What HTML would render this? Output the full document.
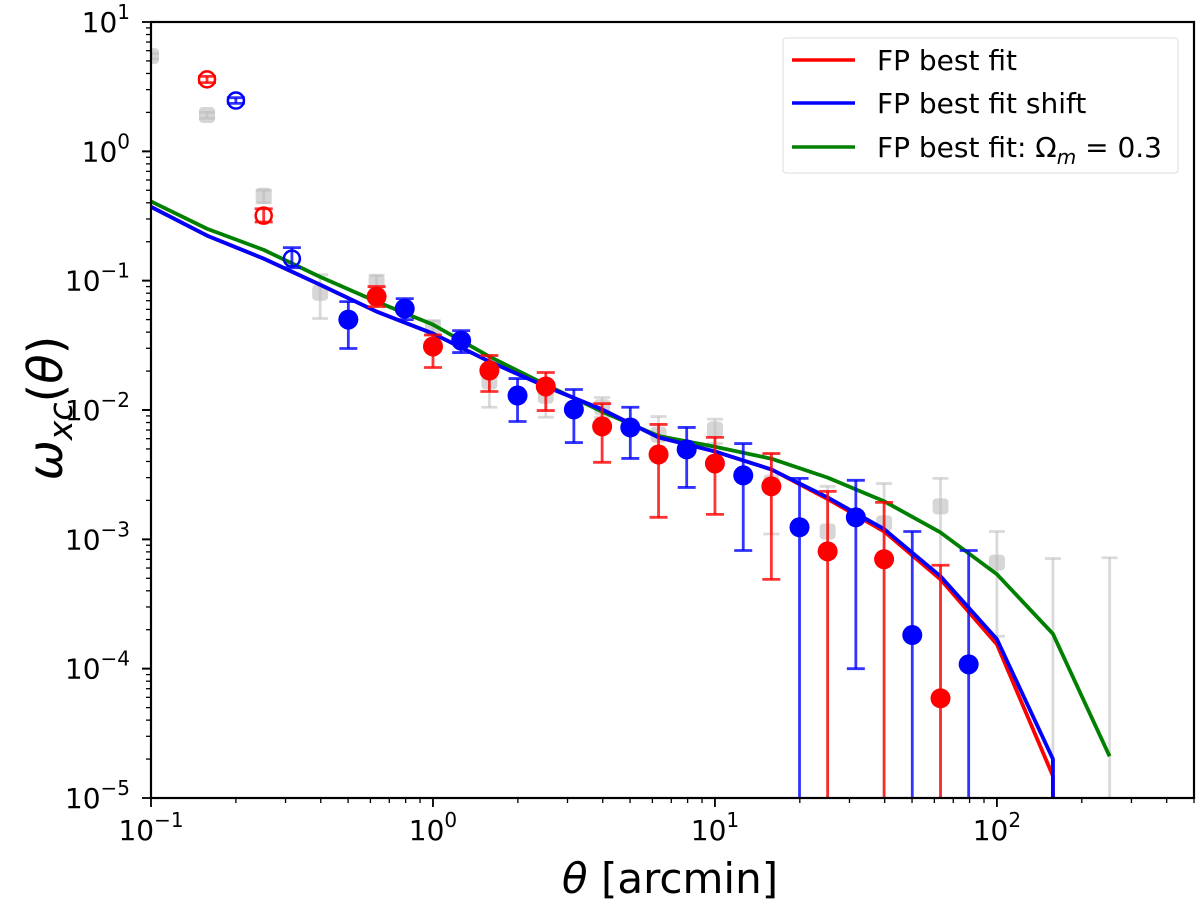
<!DOCTYPE html>
<html><head><meta charset="utf-8"><style>
html,body{margin:0;padding:0;background:#fff;}
svg{display:block;font-family:"DejaVu Sans","Liberation Sans",sans-serif;}
</style></head><body>
<svg id="chart" width="1200" height="903" viewBox="0 0 1200 903" xmlns="http://www.w3.org/2000/svg">
<g id="grey"></g>
<g id="lines"></g>
<g id="pts"></g>
<g id="axes"></g>
<g>
<rect x="783" y="38" width="395" height="135" rx="3" fill="#fff" fill-opacity="0.8" stroke="#ddd" stroke-width="1"/>
<line x1="792" y1="60" x2="855" y2="60" stroke="#ff0000" stroke-width="3.5"/>
<text x="877" y="70" font-size="28">FP best fit</text>
<line x1="792" y1="103" x2="855" y2="103" stroke="#0000ff" stroke-width="3.5"/>
<text x="877" y="113" font-size="28">FP best fit shift</text>
<line x1="792" y1="147" x2="855" y2="147" stroke="#008000" stroke-width="3.5"/>
<text x="877" y="157" font-size="28">FP best fit: Ω<tspan font-style="italic" font-size="20" dy="7">m</tspan><tspan dy="-7"> = 0.3</tspan></text>
</g>
<text x="670" y="893" font-size="42" text-anchor="middle"><tspan font-style="italic">θ</tspan> [arcmin]</text>
<text transform="translate(62,408) rotate(-90)" font-size="48" text-anchor="middle"><tspan font-style="italic">ω</tspan><tspan font-style="italic" font-size="33" dy="10">xc</tspan><tspan dy="-10">(</tspan><tspan font-style="italic">θ</tspan>)</text>
</svg>
<script>
const redX=[0.158,0.251,0.631,1.0,1.585,2.512,3.98,6.31,10,15.85,25.1,39.8,63.1];
const redY=[3.6,0.318,0.0752,0.031,0.0202,0.0152,0.00747,0.00453,0.00386,0.00257,0.000807,0.000702,0.000059];
const redLo=[3.4,0.284,0.063,0.0213,0.0139,0.0099,0.00394,0.00148,0.00156,0.00049,0,0,0];
const redHi=[3.8,0.36,0.09,0.038,0.0264,0.0195,0.0112,0.00773,0.00614,0.00461,0.00235,0.00193,0.00063];
const redOpen=[1,1,0,0,0,0,0,0,0,0,0,0,0];
const blueX=[0.2,0.316,0.501,0.794,1.259,1.995,3.16,5.01,7.94,12.6,19.95,31.6,50.1,79.4];
const blueY=[2.47,0.148,0.05,0.0608,0.0344,0.01294,0.0101,0.00733,0.00496,0.00312,0.00124,0.00148,0.000182,0.000108];
const blueLo=[2.35,0.126,0.0299,0.05,0.0278,0.00815,0.0056,0.00422,0.00252,0.00082,0,0.0001,0,0];
const blueHi=[2.6,0.18,0.0689,0.0726,0.0411,0.0175,0.0144,0.0105,0.00733,0.0055,0.00296,0.00286,0.00115,0.00082];
const blueOpen=[1,1,0,0,0,0,0,0,0,0,0,0,0,0];
const greyX=[0.1,0.158,0.251,0.398,0.631,1.0,1.585,2.512,3.98,6.31,10,15.85,25.1,39.8,63.1,100,158,251];
const greyY=[5.45,1.91,0.453,0.0807,0.0966,0.0434,0.0166,0.0129,0.0105,0.00645,0.00706,0.00275,0.00115,0.00133,0.0018,0.00066,null,null];
const greyLo=[5.2,1.8,0.4,0.051,0.08,0.038,0.0105,0.0088,0.0088,0.004,0.0055,0.0011,0,0,0,0.000178,0,0];
const greyHi=[5.7,2.0,0.5,0.111,0.11,0.049,0.0264,0.0165,0.0125,0.0089,0.0085,0.0046,0.00257,0.0027,0.00296,0.00115,0.00071,0.00072];
const lineX=[0.1,0.158,0.251,0.398,0.631,1.0,1.585,2.512,3.98,6.31,10,15.85,25.1,39.8,63.1,100,158];
const fitRed=[0.372,0.223,0.148,0.093,0.0577,0.039,0.0237,0.0152,0.0101,0.00614,0.00478,0.00347,0.00205,0.00115,0.00049,0.000154,0.0000148];
const fitBlue=[0.372,0.223,0.148,0.093,0.0577,0.039,0.0237,0.0152,0.0101,0.00614,0.00478,0.00347,0.00211,0.0012,0.000518,0.000169,0.00002];
const greenX=[0.1,0.158,0.251,0.398,0.631,1.0,1.585,2.512,3.98,6.31,10,15.85,25.1,39.8,63.1,100,158,251];
const fitGreen=[0.41,0.252,0.173,0.107,0.0689,0.0457,0.0259,0.0157,0.0097,0.0063,0.0052,0.0042,0.003,0.00197,0.00113,0.000537,0.000186,0.000021];
const xTickExp=[-1,0,1,2];
const yTickExp=[1,0,-1,-2,-3,-4,-5];

const L=151,R=1194,T=22,B=798;
const X0=-1,X1=Math.log10(500),Y0=-5,Y1=1;
function sx(v){return L+(Math.log10(v)-X0)/(X1-X0)*(R-L);}
function sy(v){if(!(v>0))return B+20;return B-(Math.log10(v)-Y0)/(Y1-Y0)*(B-T);}
const NS="http://www.w3.org/2000/svg";
function mk(tag,attrs,parent){const e=document.createElementNS(NS,tag);for(const k in attrs)e.setAttribute(k,attrs[k]);parent.appendChild(e);return e;}
const svg=document.getElementById('chart');
const clipDefs=mk('defs',{},svg);
const cp=mk('clipPath',{id:'plotclip'},clipDefs);
mk('rect',{x:L,y:T,width:R-L,height:B-T},cp);
const gG=document.getElementById('grey'),gL=document.getElementById('lines'),gP=document.getElementById('pts'),gA=document.getElementById('axes');
[gG,gL,gP].forEach(g=>g.setAttribute('clip-path','url(#plotclip)'));

function errbar(g,x,lo,hi,col,op,cap){
  const px=sx(x),y1=sy(hi),y2=lo>0?sy(lo):B+20;
  let e=mk('line',{x1:px,x2:px,y1:y1,y2:y2,stroke:col,'stroke-width':2.8,'stroke-opacity':op},g);
  
  
  mk('line',{x1:px-cap,x2:px+cap,y1:y1,y2:y1,stroke:col,'stroke-width':2.8,'stroke-opacity':op},g);
  if(lo>0)mk('line',{x1:px-cap,x2:px+cap,y1:y2,y2:y2,stroke:col,'stroke-width':2.8,'stroke-opacity':op},g);
}
for(let i=0;i<greyX.length;i++){
  errbar(gG,greyX[i],greyLo[i],greyHi[i],'#bbbbbb',0.55,8);
  if(greyY[i]!=null){
    const r=mk('rect',{x:sx(greyX[i])-8,y:sy(greyY[i])-8,width:16,height:16,rx:4,fill:'#bbbbbb','fill-opacity':0.6},gG);
    
    
  }
}
function poly(xs,ys,col,name,drop){
  let pts=xs.map((x,i)=>sx(x)+','+sy(ys[i]));
  if(drop)pts.push(sx(xs[xs.length-1])+','+(B+20));
  const p=mk('polyline',{points:pts.join(' '),fill:'none',stroke:col,'stroke-width':3.8,'stroke-linejoin':'round'},gL);
  
  
}
poly(greenX,fitGreen,'#008000','line-fit-omega-m-0.3',false);
poly(lineX,fitRed,'#ff0000','line-fp-best-fit',true);
poly(lineX,fitBlue,'#0000ff','line-fp-best-fit-shift',true);
function series(xs,ys,lo,hi,op,col,name){
  for(let i=0;i<xs.length;i++){
    errbar(gP,xs[i],lo[i],hi[i],col,0.8,9);
    const c=op[i]?mk('circle',{cx:sx(xs[i]),cy:sy(ys[i]),r:8,fill:'none',stroke:col,'stroke-width':2.5},gP)
                 :mk('circle',{cx:sx(xs[i]),cy:sy(ys[i]),r:10,fill:col},gP);
    
    
  }
}
series(redX,redY,redLo,redHi,redOpen,'#ff0000','red-point');
series(blueX,blueY,blueLo,blueHi,blueOpen,'#0000ff','blue-point');
const fr=mk('rect',{x:L,y:T,width:R-L,height:B-T,fill:'none',stroke:'#000','stroke-width':2.2},gA);


for(let e=-1;e<=2;e++){
  for(let m=1;m<10;m++){
    const v=m*Math.pow(10,e); if(v>500.01)break;
    const px=sx(v),len=m===1?9:5;
    mk('line',{x1:px,x2:px,y1:B,y2:B+len,stroke:'#000','stroke-width':m===1?1.8:1.3},gA);
  }
}
xTickExp.forEach(e=>{
  const t=mk('text',{x:sx(Math.pow(10,e)),y:B+42,'font-size':28,'text-anchor':'middle'},gA);
  
  
  t.innerHTML='10<tspan font-size="20" dy="-13">'+(e<0?'−'+(-e):e)+'</tspan>';
});
for(let e=-5;e<=0;e++){
  for(let m=1;m<=10;m++){
    const v=m*Math.pow(10,e);
    const py=sy(v),len=(m===1||m===10)?9:5;
    mk('line',{x1:L-len,x2:L,y1:py,y2:py,stroke:'#000','stroke-width':(m===1||m===10)?1.8:1.3},gA);
  }
}
yTickExp.forEach(e=>{
  const t=mk('text',{x:130,y:sy(Math.pow(10,e))+10,'font-size':28,'text-anchor':'end'},gA);
  
  
  t.innerHTML='10<tspan font-size="20" dy="-13">'+(e<0?'−'+(-e):e)+'</tspan>';
});
</script>
</body></html>
